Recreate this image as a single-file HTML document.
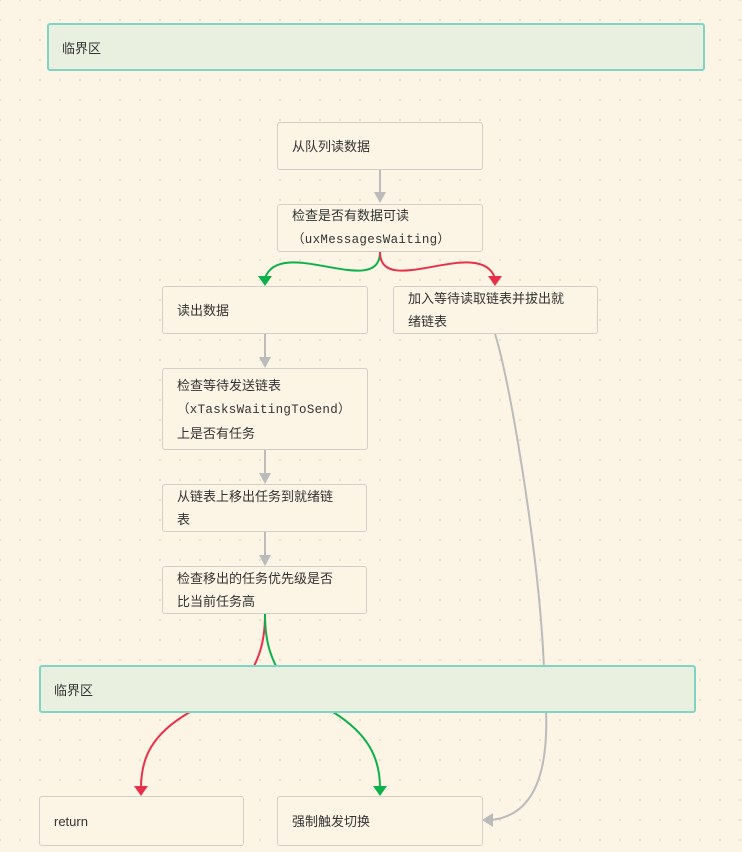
<!DOCTYPE html>
<html><head><meta charset="utf-8"><style>
body{margin:0;width:742px;height:852px;overflow:hidden;background:#fcf5e5;background-image:radial-gradient(#e6dfcd 1px,transparent 1.2px);background-size:20px 20px;background-position:10px 10px;font-family:"Liberation Sans","Noto Sans CJK SC",sans-serif;font-size:13px;color:#333;position:relative}
.b{position:absolute;box-sizing:border-box;background:#fcf5e5;border:1.5px solid #d3cfc7;border-radius:3px;padding:0 30px 0 14px;display:flex;align-items:center;line-height:23px}
.c{position:absolute;box-sizing:border-box;background:#e9f0e0;border:2px solid #7fd4c6;border-radius:3px;padding:0 13px;display:flex;align-items:center}
.m{font-family:"Liberation Mono","Noto Sans CJK SC",monospace;font-size:12.5px;letter-spacing:0.3px}
svg{position:absolute;left:0;top:0}
</style></head><body>
<svg width="742" height="852" fill="none" stroke-width="2">
<path d="M380 170V194" stroke="#bbb"/><path d="M374 192h12l-6 11z" fill="#bbb" stroke="none"/>
<path d="M265 334V358" stroke="#bbb"/><path d="M259 357h12l-6 11z" fill="#bbb" stroke="none"/>
<path d="M265 450V474" stroke="#bbb"/><path d="M259 473h12l-6 11z" fill="#bbb" stroke="none"/>
<path d="M265 532V556" stroke="#bbb"/><path d="M259 555h12l-6 11z" fill="#bbb" stroke="none"/>
<path d="M380 252C380 300 280 235 265 278" stroke="#0db14b"/><path d="M258 276h14l-7 10z" fill="#0db14b" stroke="none"/>
<path d="M380 252C380 300 480 235 495 278" stroke="#e8304a"/><path d="M488 276h14l-7 10z" fill="#e8304a" stroke="none"/>
<path d="M265 614C265 640 260 655 252 670" stroke="#e8304a"/>
<path d="M265 614C265 640 270 655 278 670" stroke="#0db14b"/>
<path d="M190 712C150 735 141 760 141 788" stroke="#e8304a"/><path d="M134 786h14l-7 10z" fill="#e8304a" stroke="none"/>
<path d="M333 712C370 735 380 760 380 788" stroke="#0db14b"/><path d="M373 786h14l-7 10z" fill="#0db14b" stroke="none"/>
<path d="M495 334C510 380 540 560 544 670M546 710C548 760 540 815 491 820" stroke="#bbb"/><path d="M482 820l11-7v14z" fill="#bbb" stroke="none"/>
</svg>
<div class="c" style="left:47px;top:23px;width:658px;height:48px">临界区</div>
<div class="b" style="left:277px;top:122px;width:206px;height:48px">从队列读数据</div>
<div class="b" style="left:277px;top:204px;width:206px;height:48px;padding-right:6px"><div>检查是否有数据可读<br><span class="m">（uxMessagesWaiting）</span></div></div>
<div class="b" style="left:162px;top:286px;width:206px;height:48px">读出数据</div>
<div class="b" style="left:393px;top:286px;width:205px;height:48px">加入等待读取链表并拔出就绪链表</div>
<div class="b" style="left:162px;top:368px;width:206px;height:82px;padding-right:4px"><div>检查等待发送链表<br><span class="m">（xTasksWaitingToSend）</span><br>上是否有任务</div></div>
<div class="b" style="left:162px;top:484px;width:205px;height:48px">从链表上移出任务到就绪链表</div>
<div class="b" style="left:162px;top:566px;width:205px;height:48px">检查移出的任务优先级是否比当前任务高</div>
<div class="c" style="left:39px;top:665px;width:657px;height:48px">临界区</div>
<div class="b" style="left:39px;top:796px;width:205px;height:50px">return</div>
<div class="b" style="left:277px;top:796px;width:206px;height:50px">强制触发切换</div>
</body></html>
